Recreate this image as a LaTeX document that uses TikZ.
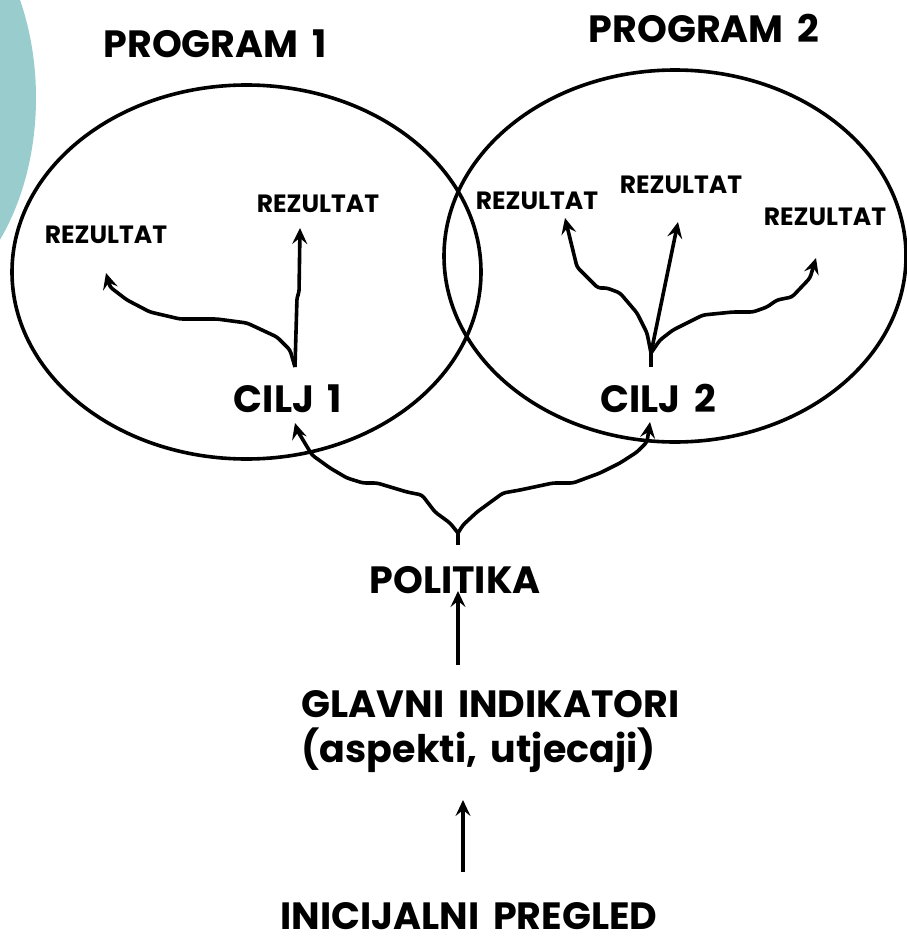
\documentclass[tikz,border=0pt]{standalone}
\usepackage{fontspec}
\setmainfont{Poppins}[WordSpace=1.7]
\usetikzlibrary{arrows.meta}
\definecolor{teal1}{RGB}{153,204,204}
\begin{document}
\begin{tikzpicture}[x=1pt, y=-1pt, line width=3.6pt,
  big/.style = {font=\fontsize{38}{40}\selectfont\bfseries, inner sep=0pt, anchor=base},
  res/.style = {font=\fontsize{25}{27}\selectfont\bfseries, inner sep=0pt, anchor=base},
  arr/.style = {-{Stealth[length=16pt,width=15pt,inset=6pt]}, rounded corners=3pt, line join=round}] 
\useasboundingbox (0,0) rectangle (907,942);
\clip (0,0) rectangle (907,942);
\fill[teal1] (-114,98) ellipse [x radius=150, y radius=218];
\draw (246.5,272) ellipse [x radius=234.5, y radius=187];
\draw (675,256) ellipse [x radius=231, y radius=186];
\node[big] (prog1) at (215,58) {PROGRAM 1};
\node[big] (prog2) at (704,43) {PROGRAM 2};
\node[res] (rez1) at (106,243) {REZULTAT};
\node[res] (rez2) at (318,212) {REZULTAT};
\node[res] (rez3) at (537,209) {REZULTAT};
\node[res] (rez4) at (681,193) {REZULTAT};
\node[res] (rez5) at (825,225) {REZULTAT};
\node[big] (cilj1) at (288,412) {CILJ 1};
\node[big] (cilj2) at (658,412) {CILJ 2};
\node[big] (pol) at (455,593) {POLITIKA};
\node[big, anchor=base west] (glavni) at (300,717) {GLAVNI INDIKATORI};
\node[big, anchor=base west] (asp) at (300,762) {(aspekti, utjecaji)};
\node[big] (init) at (469,929) {INICIJALNI PREGLED};
\coordinate (c1root) at (295,367);
\coordinate (c1a) at (106,273);
\coordinate (c1b) at (300,228);
\coordinate (c2root) at (651,367);
\coordinate (c2fork) at (651,353);
\coordinate (c2a) at (565,218);
\coordinate (c2b) at (678,222);
\coordinate (c2c) at (816,258);
\coordinate (polroot) at (458,545);
\coordinate (polfork) at (458,533);
\coordinate (c1low) at (295,423);
\coordinate (c2low) at (650,422);
\coordinate (glavtop) at (458,665);
\coordinate (poltip) at (458,591);
\coordinate (inittop) at (463,872);
\coordinate (glavtip) at (463,800);
\draw[arr] (c1root) -- (290,350) -- (277,337) -- (247,323) -- (217,319) -- (180,319) -- (150,312) -- (127,300) -- (110,287) -- (c1a);
\draw[arr] (c1root) -- (297,297) -- (299,293) -- (c1b);
\draw (c2root) -- (c2fork);
\draw[arr] (c2fork) -- (647,333) -- (637,313) -- (620,293) -- (607,288) -- (598,288) -- (577,267) -- (c2a);
\draw[arr] (c2fork) -- (c2b);
\draw[arr] (c2fork) -- (660,340) -- (673,330) -- (703,315) -- (733,312) -- (753,312) -- (767,307) -- (777,300) -- (792,297) -- (810,278) -- (c2c);
\draw (polroot) -- (polfork);
\draw[arr] (polfork) -- (450,523) -- (435,512) -- (422,495) -- (407,492) -- (377,483) -- (363,483) -- (347,478) -- (330,468) -- (312,455) -- (297,430) -- (c1low);
\draw[arr] (polfork) -- (463,525) -- (477,512) -- (503,493) -- (520,490) -- (553,483) -- (573,483) -- (600,473) -- (620,463) -- (637,452) -- (647,442) -- (c2low);
\draw[arr] (glavtop) -- (poltip);
\draw[arr] (inittop) -- (glavtip);
\end{tikzpicture}
\end{document}
